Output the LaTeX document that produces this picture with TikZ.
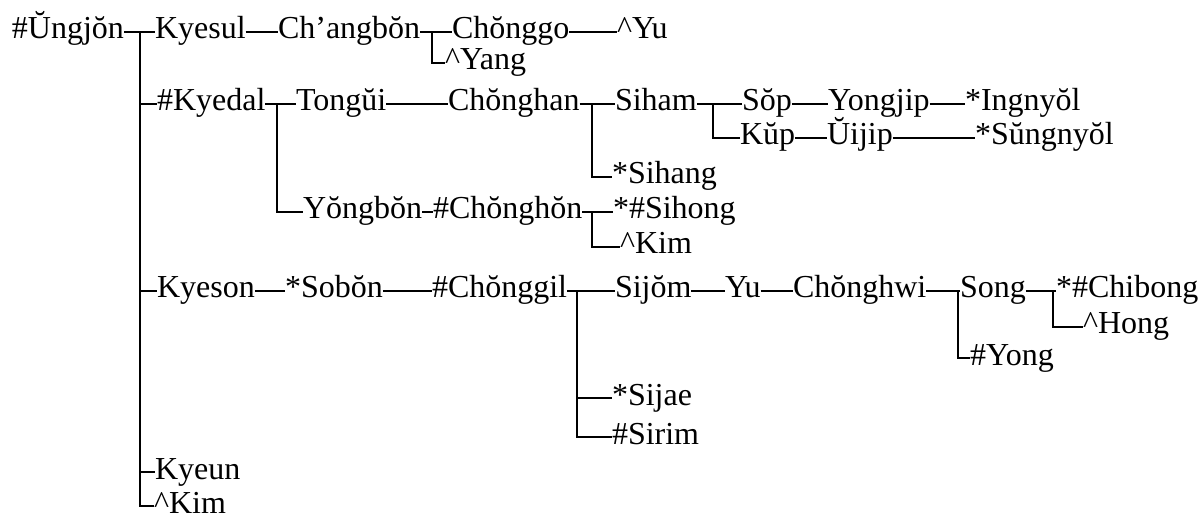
\documentclass[tikz,border=0pt]{standalone}
\usepackage{fontspec}
\setmainfont{Liberation Serif}
\tikzset{
  nm/.style={anchor=base west, inner sep=0pt, outer sep=0pt, font=\fontsize{32}{36}\selectfont},
  ln/.style={line width=1.2pt, black},
  tr/.style={line width=1.8pt, black}
}
\newcommand\nd[4]{%
  \node[nm] (#1) at (#2,#3+7) {#4};
  \coordinate (#1-l) at ([yshift=7pt]#1.base west);
  \coordinate (#1-r) at ([yshift=7pt]#1.base east);}
\begin{document}
\begin{tikzpicture}[x=1pt,y=-1pt]
\useasboundingbox (0,0) rectangle (1204,518);
% nodes
\nd{U}{12}{32}{\#Ŭngjŏn}
\nd{Kyesul}{155}{32}{Kyesul}
\nd{Cb}{278}{32}{Ch’angbŏn}
\nd{Cg}{452}{32}{Chŏnggo}
\nd{YuA}{617}{32}{\^{}Yu}
\nd{Yang}{445}{63}{\^{}Yang}
\nd{Kyedal}{157}{104}{\#Kyedal}
\nd{Tong}{296}{104}{Tongŭi}
\nd{Chh}{448}{104}{Chŏnghan}
\nd{Siham}{615}{104}{Siham}
\nd{Sop}{742}{104}{Sŏp}
\nd{Yj}{828}{104}{Yongjip}
\nd{Ing}{965}{104}{*Ingnyŏl}
\nd{Kup}{740}{138}{Kŭp}
\nd{Uij}{827}{138}{Ŭijip}
\nd{Sung}{975}{138}{*Sŭngnyŏl}
\nd{Sihang}{612}{177}{*Sihang}
\nd{Yb}{303}{212}{Yŏngbŏn}
\nd{Chhn}{433}{212}{\#Chŏnghŏn}
\nd{Sihong}{613}{212}{*\#Sihong}
\nd{KimB}{620}{247}{\^{}Kim}
\nd{Kyeson}{157}{291}{Kyeson}
\nd{Sobon}{285}{291}{*Sobŏn}
\nd{Cgil}{432}{291}{\#Chŏnggil}
\nd{Sijom}{615}{291}{Sijŏm}
\nd{YuB}{725}{291}{Yu}
\nd{Chw}{793}{291}{Chŏnghwi}
\nd{Song}{960}{291}{Song}
\nd{Chib}{1056}{291}{*\#Chibong}
\nd{Hong}{1083}{327}{\^{}Hong}
\nd{Yong}{970}{358}{\#Yong}
\nd{Sijae}{612}{398}{*Sijae}
\nd{Sirim}{612}{437}{\#Sirim}
\nd{Kyeun}{155}{472}{Kyeun}
\nd{KimC}{154}{506}{\^{}Kim}
% junctions
\coordinate (t) at (140,32);
\coordinate (j1) at (432,32);
\coordinate (j2) at (277,104);
\coordinate (j3) at (592,104);
\coordinate (j4) at (713,104);
\coordinate (j5) at (592,212);
\coordinate (j6) at (577,291);
\coordinate (j7) at (958,291);
\coordinate (j8) at (1053,291);
% trunk
\draw[tr] (t) |- (KimC-l);
\draw[ln] (t) |- (Kyedal-l);
\draw[ln] (t) |- (Kyeson-l);
\draw[ln] (t) |- (Kyeun-l);
% row 1
\draw[ln] (U-r) -- (Kyesul-l);
\draw[ln] (Kyesul-r) -- (Cb-l);
\draw[ln] (Cb-r) -- (Cg-l);
\draw[ln] (j1) |- (Yang-l);
\draw[ln] (Cg-r) -- (YuA-l);
% Kyedal branch
\draw[ln] (Kyedal-r) -- (Tong-l);
\draw[ln] (j2) |- (Yb-l);
\draw[ln] (Tong-r) -- (Chh-l);
\draw[ln] (Chh-r) -- (Siham-l);
\draw[ln] (j3) |- (Sihang-l);
\draw[ln] (Siham-r) -- (Sop-l);
\draw[ln] (j4) |- (Kup-l);
\draw[ln] (Sop-r) -- (Yj-l);
\draw[ln] (Yj-r) -- (Ing-l);
\draw[ln] (Kup-r) -- (Uij-l);
\draw[ln] (Uij-r) -- (Sung-l);
\draw[ln] (Yb-r) -- (Chhn-l);
\draw[ln] (Chhn-r) -- (Sihong-l);
\draw[ln] (j5) |- (KimB-l);
% Kyeson branch
\draw[ln] (Kyeson-r) -- (Sobon-l);
\draw[ln] (Sobon-r) -- (Cgil-l);
\draw[ln] (Cgil-r) -- (Sijom-l);
\draw[ln] (j6) |- (Sijae-l);
\draw[ln] (j6) |- (Sirim-l);
\draw[ln] (Sijom-r) -- (YuB-l);
\draw[ln] (YuB-r) -- (Chw-l);
\draw[ln] (Chw-r) -- (Song-l);
\draw[ln] (j7) |- (Yong-l);
\draw[ln] (Song-r) -- (Chib-l);
\draw[ln] (j8) |- (Hong-l);
\end{tikzpicture}
\end{document}
